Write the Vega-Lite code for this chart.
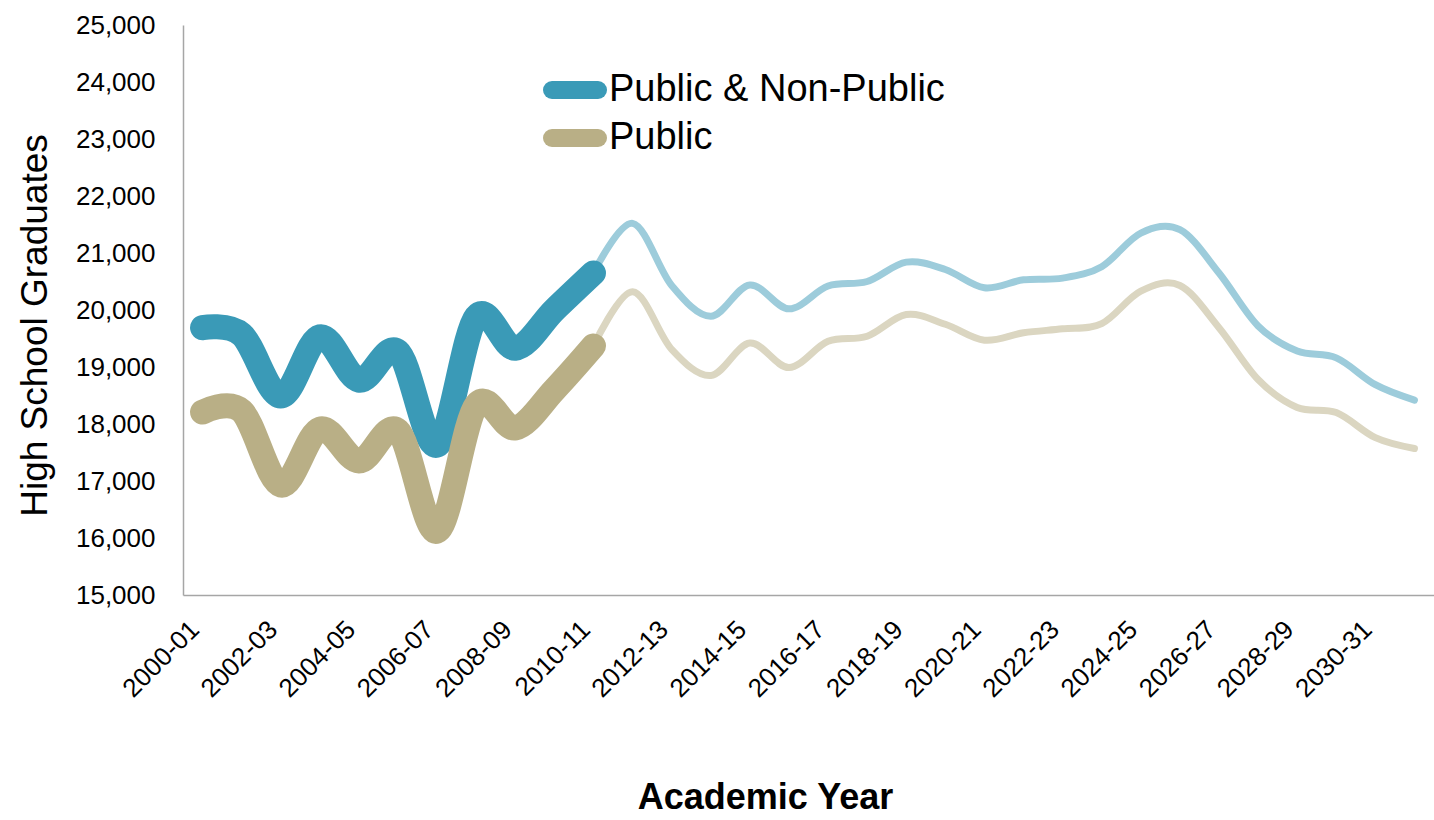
{
  "$schema": "https://vega.github.io/schema/vega-lite/v6.json",
  "width": 1251,
  "height": 570,
  "autosize": "none",
  "padding": {"left": 183, "top": 25, "right": 0, "bottom": 225},
  "background": "white",
  "config": {"view": {"stroke": null}, "font": "Liberation Sans"},
  "data": {
    "values": [
      {"year": "2000-01", "series": "Public & Non-Public", "type": "Actual", "graduates": 19690},
      {"year": "2001-02", "series": "Public & Non-Public", "type": "Actual", "graduates": 19570},
      {"year": "2002-03", "series": "Public & Non-Public", "type": "Actual", "graduates": 18490},
      {"year": "2003-04", "series": "Public & Non-Public", "type": "Actual", "graduates": 19530},
      {"year": "2004-05", "series": "Public & Non-Public", "type": "Actual", "graduates": 18770},
      {"year": "2005-06", "series": "Public & Non-Public", "type": "Actual", "graduates": 19270},
      {"year": "2006-07", "series": "Public & Non-Public", "type": "Actual", "graduates": 17630},
      {"year": "2007-08", "series": "Public & Non-Public", "type": "Actual", "graduates": 19880},
      {"year": "2008-09", "series": "Public & Non-Public", "type": "Actual", "graduates": 19330},
      {"year": "2009-10", "series": "Public & Non-Public", "type": "Actual", "graduates": 20000},
      {"year": "2010-11", "series": "Public & Non-Public", "type": "Actual", "graduates": 20650},
      {"year": "2010-11", "series": "Public & Non-Public", "type": "Projected", "graduates": 20650},
      {"year": "2011-12", "series": "Public & Non-Public", "type": "Projected", "graduates": 21520},
      {"year": "2012-13", "series": "Public & Non-Public", "type": "Projected", "graduates": 20430},
      {"year": "2013-14", "series": "Public & Non-Public", "type": "Projected", "graduates": 19890},
      {"year": "2014-15", "series": "Public & Non-Public", "type": "Projected", "graduates": 20440},
      {"year": "2015-16", "series": "Public & Non-Public", "type": "Projected", "graduates": 20020},
      {"year": "2016-17", "series": "Public & Non-Public", "type": "Projected", "graduates": 20420},
      {"year": "2017-18", "series": "Public & Non-Public", "type": "Projected", "graduates": 20500},
      {"year": "2018-19", "series": "Public & Non-Public", "type": "Projected", "graduates": 20840},
      {"year": "2019-20", "series": "Public & Non-Public", "type": "Projected", "graduates": 20710},
      {"year": "2020-21", "series": "Public & Non-Public", "type": "Projected", "graduates": 20390},
      {"year": "2021-22", "series": "Public & Non-Public", "type": "Projected", "graduates": 20530},
      {"year": "2022-23", "series": "Public & Non-Public", "type": "Projected", "graduates": 20560},
      {"year": "2023-24", "series": "Public & Non-Public", "type": "Projected", "graduates": 20760},
      {"year": "2024-25", "series": "Public & Non-Public", "type": "Projected", "graduates": 21350},
      {"year": "2025-26", "series": "Public & Non-Public", "type": "Projected", "graduates": 21410},
      {"year": "2026-27", "series": "Public & Non-Public", "type": "Projected", "graduates": 20650},
      {"year": "2027-28", "series": "Public & Non-Public", "type": "Projected", "graduates": 19720},
      {"year": "2028-29", "series": "Public & Non-Public", "type": "Projected", "graduates": 19280},
      {"year": "2029-30", "series": "Public & Non-Public", "type": "Projected", "graduates": 19160},
      {"year": "2030-31", "series": "Public & Non-Public", "type": "Projected", "graduates": 18690},
      {"year": "2031-32", "series": "Public & Non-Public", "type": "Projected", "graduates": 18420},
      {"year": "2000-01", "series": "Public", "type": "Actual", "graduates": 18210},
      {"year": "2001-02", "series": "Public", "type": "Actual", "graduates": 18230},
      {"year": "2002-03", "series": "Public", "type": "Actual", "graduates": 16930},
      {"year": "2003-04", "series": "Public", "type": "Actual", "graduates": 17910},
      {"year": "2004-05", "series": "Public", "type": "Actual", "graduates": 17350},
      {"year": "2005-06", "series": "Public", "type": "Actual", "graduates": 17880},
      {"year": "2006-07", "series": "Public", "type": "Actual", "graduates": 16120},
      {"year": "2007-08", "series": "Public", "type": "Actual", "graduates": 18330},
      {"year": "2008-09", "series": "Public", "type": "Actual", "graduates": 17930},
      {"year": "2009-10", "series": "Public", "type": "Actual", "graduates": 18600},
      {"year": "2010-11", "series": "Public", "type": "Actual", "graduates": 19370},
      {"year": "2010-11", "series": "Public", "type": "Projected", "graduates": 19370},
      {"year": "2011-12", "series": "Public", "type": "Projected", "graduates": 20320},
      {"year": "2012-13", "series": "Public", "type": "Projected", "graduates": 19310},
      {"year": "2013-14", "series": "Public", "type": "Projected", "graduates": 18850},
      {"year": "2014-15", "series": "Public", "type": "Projected", "graduates": 19420},
      {"year": "2015-16", "series": "Public", "type": "Projected", "graduates": 18990},
      {"year": "2016-17", "series": "Public", "type": "Projected", "graduates": 19450},
      {"year": "2017-18", "series": "Public", "type": "Projected", "graduates": 19540},
      {"year": "2018-19", "series": "Public", "type": "Projected", "graduates": 19920},
      {"year": "2019-20", "series": "Public", "type": "Projected", "graduates": 19750},
      {"year": "2020-21", "series": "Public", "type": "Projected", "graduates": 19470},
      {"year": "2021-22", "series": "Public", "type": "Projected", "graduates": 19600},
      {"year": "2022-23", "series": "Public", "type": "Projected", "graduates": 19670},
      {"year": "2023-24", "series": "Public", "type": "Projected", "graduates": 19760},
      {"year": "2024-25", "series": "Public", "type": "Projected", "graduates": 20330},
      {"year": "2025-26", "series": "Public", "type": "Projected", "graduates": 20430},
      {"year": "2026-27", "series": "Public", "type": "Projected", "graduates": 19690},
      {"year": "2027-28", "series": "Public", "type": "Projected", "graduates": 18780},
      {"year": "2028-29", "series": "Public", "type": "Projected", "graduates": 18290},
      {"year": "2029-30", "series": "Public", "type": "Projected", "graduates": 18200},
      {"year": "2030-31", "series": "Public", "type": "Projected", "graduates": 17760},
      {"year": "2031-32", "series": "Public", "type": "Projected", "graduates": 17570}
    ]
  },
  "encoding": {
    "x": {
      "field": "year",
      "type": "ordinal",
      "scale": {
        "type": "point",
        "padding": 0.5,
        "domain": ["2000-01","2001-02","2002-03","2003-04","2004-05","2005-06","2006-07","2007-08","2008-09","2009-10","2010-11","2011-12","2012-13","2013-14","2014-15","2015-16","2016-17","2017-18","2018-19","2019-20","2020-21","2021-22","2022-23","2023-24","2024-25","2025-26","2026-27","2027-28","2028-29","2029-30","2030-31","2031-32"]
      },
      "axis": {
        "values": ["2000-01","2002-03","2004-05","2006-07","2008-09","2010-11","2012-13","2014-15","2016-17","2018-19","2020-21","2022-23","2024-25","2026-27","2028-29","2030-31"],
        "labelAngle": -45,
        "labelAlign": "right",
        "labelBaseline": "middle",
        "labelFontSize": 26,
        "labelColor": "black",
        "labelPadding": 30,
        "labelOffset": -8,
        "ticks": false,
        "grid": false,
        "domainColor": "#A6A6A6",
        "domainWidth": 1.5,
        "title": "Academic Year",
        "titleFontSize": 36,
        "titleFontWeight": "bold",
        "titleColor": "black",
        "titlePadding": 79,
        "titleX": 582,
        "titleAlign": "center"
      }
    },
    "y": {
      "field": "graduates",
      "type": "quantitative",
      "scale": {"domain": [15000, 25000], "nice": false, "zero": false},
      "axis": {
        "values": [15000,16000,17000,18000,19000,20000,21000,22000,23000,24000,25000],
        "format": ",d",
        "labelFontSize": 26,
        "labelColor": "black",
        "labelPadding": 28,
        "ticks": false,
        "grid": false,
        "domainColor": "#A6A6A6",
        "domainWidth": 1.5,
        "title": "High School Graduates",
        "titleFontSize": 37,
        "titleFontWeight": "normal",
        "titleColor": "black",
        "titleAngle": -90,
        "titleBaseline": "middle",
        "titleAlign": "center",
        "titleX": -148,
        "titleY": 300
      }
    }
  },
  "layer": [
    {
      "transform": [{"filter": "datum.type === 'Projected'"}],
      "mark": {"type": "line", "interpolate": "cardinal", "strokeWidth": 7, "strokeCap": "round", "strokeJoin": "round"},
      "encoding": {
        "color": {
          "field": "series",
          "type": "nominal",
          "scale": {"domain": ["Public & Non-Public", "Public"], "range": ["#9DCCDB", "#DBD6C1"]},
          "legend": null
        }
      }
    },
    {
      "transform": [{"filter": "datum.type === 'Actual'"}],
      "mark": {"type": "line", "interpolate": "cardinal", "strokeWidth": 25, "strokeCap": "round", "strokeJoin": "round"},
      "encoding": {
        "color": {
          "field": "series",
          "type": "nominal",
          "scale": {"domain": ["Public & Non-Public", "Public"], "range": ["#3A9AB7", "#B9AF86"]},
          "legend": {
            "orient": "none",
            "legendX": 360,
            "legendY": 43,
            "title": null,
            "labelFontSize": 38,
            "labelColor": "black",
            "labelLimit": 0,
            "labelOffset": 25,
            "symbolType": "M-1,0L3,0",
            "symbolSize": 529,
            "symbolStrokeWidth": 18,
            "clipHeight": 44,
            "rowPadding": 4,
            "encoding": {
              "symbols": {"strokeCap": {"value": "round"}, "strokeWidth": {"value": 18}}
            }
          }
        }
      }
    }
  ],
  "resolve": {"scale": {"color": "independent"}}
}
